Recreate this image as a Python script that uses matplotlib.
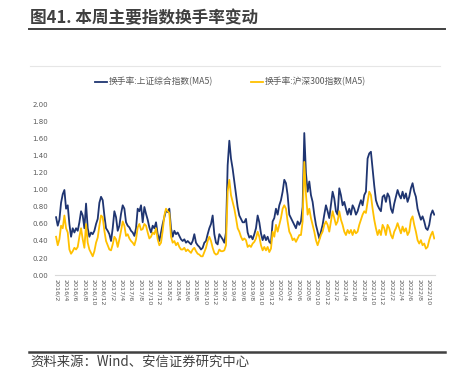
import matplotlib.pyplot as plt
import pandas as pd
from matplotlib.lines import Line2D

plt.rcParams['font.family'] = ['Noto Sans CJK SC', 'DejaVu Sans']

# turnover (MA5), roughly every 11 days from late Jan 2016
sse_turnover = [
    0.68, 0.58, 0.65, 0.85, 0.95, 1.00, 0.78, 0.82, 0.60, 0.45,
    0.55, 0.50, 0.55, 0.52, 0.62, 0.75, 0.70, 0.55, 0.84, 0.55,
    0.45, 0.50, 0.48, 0.52, 0.60, 0.66, 0.85, 0.92, 0.88, 0.70,
    0.55, 0.52, 0.48, 0.40, 0.55, 0.75, 0.68, 0.52, 0.58, 0.72,
    0.82, 0.78, 0.62, 0.58, 0.56, 0.52, 0.50, 0.46, 0.55, 0.78,
    0.75, 0.82, 0.62, 0.80, 0.72, 0.65, 0.56, 0.50, 0.58, 0.55,
    0.62, 0.48, 0.40, 0.50, 0.60, 0.68, 0.76, 0.74, 0.78, 0.55,
    0.45, 0.52, 0.48, 0.50, 0.46, 0.42, 0.40, 0.42, 0.38, 0.40,
    0.38, 0.36, 0.40, 0.48, 0.38, 0.35, 0.33, 0.30, 0.32, 0.38,
    0.40, 0.48, 0.55, 0.60, 0.70, 0.48, 0.38, 0.36, 0.48, 0.45,
    0.42, 0.38, 0.50,
    1.29, 1.58, 1.37, 1.25, 1.10, 0.95, 0.80, 0.70, 0.66, 0.62,
    0.62, 0.66, 0.50, 0.44, 0.46, 0.42, 0.48, 0.55, 0.70, 0.62,
    0.49, 0.41, 0.47, 0.41, 0.45, 0.39, 0.37, 0.63, 0.67, 0.78,
    0.71, 0.82, 0.88, 0.98, 1.12, 1.08, 0.94, 0.71, 0.67, 0.63,
    0.59, 0.55, 0.63,
    0.59, 0.63, 0.80, 1.67, 1.20, 0.98, 1.10, 0.94, 0.86, 0.71,
    0.59, 0.51, 0.43, 0.51, 0.59, 0.71, 0.82, 0.75, 0.67, 0.82,
    0.98, 0.90, 0.75, 0.71, 1.02, 0.94, 0.82, 0.86, 0.78, 0.71,
    0.78, 0.71, 0.82, 0.78, 0.71, 0.75, 0.82, 0.88, 0.82, 0.94,
    0.98,
    1.37, 1.43, 1.45, 1.25, 1.05, 0.88, 0.82, 0.78, 0.75, 0.92,
    0.94, 0.86, 0.96, 0.92, 0.78, 0.73, 0.84, 0.92, 1.00, 0.94,
    0.90, 0.98, 0.90, 0.96, 0.86, 0.92, 1.02, 1.08, 0.98, 0.92,
    0.78, 0.71, 0.65, 0.69, 0.63, 0.55, 0.53, 0.59, 0.71, 0.76,
    0.71,
]

hs300_turnover = [
    0.45, 0.35, 0.42, 0.58, 0.55, 0.70, 0.55, 0.50, 0.30, 0.25,
    0.28, 0.32, 0.30, 0.33, 0.45, 0.55, 0.42, 0.32, 0.60, 0.38,
    0.30, 0.26, 0.22, 0.28, 0.38, 0.44, 0.58, 0.70, 0.68, 0.52,
    0.40, 0.35, 0.30, 0.29, 0.36, 0.45, 0.42, 0.33, 0.42, 0.52,
    0.63, 0.58, 0.46, 0.48, 0.43, 0.40, 0.38, 0.35, 0.42, 0.56,
    0.60, 0.53, 0.54, 0.60, 0.58, 0.50, 0.43, 0.45, 0.50, 0.48,
    0.55, 0.42, 0.35, 0.38, 0.52, 0.70, 0.78, 0.75, 0.73, 0.45,
    0.38, 0.40, 0.35, 0.38, 0.33, 0.30, 0.30, 0.32, 0.28, 0.30,
    0.28, 0.26, 0.30, 0.32, 0.28, 0.25, 0.24, 0.22, 0.22, 0.27,
    0.32, 0.40, 0.45, 0.40, 0.32, 0.26, 0.24, 0.25, 0.30, 0.28,
    0.28, 0.29, 0.35,
    0.98, 1.12, 0.94, 0.86, 0.78, 0.67, 0.55, 0.51, 0.45, 0.41,
    0.43, 0.41, 0.33, 0.35, 0.33, 0.37, 0.39, 0.43, 0.51, 0.45,
    0.35, 0.29, 0.33, 0.29, 0.33, 0.27, 0.31, 0.51, 0.45, 0.59,
    0.51, 0.59, 0.67, 0.78, 0.82, 0.78, 0.63, 0.51, 0.47, 0.41,
    0.43, 0.39, 0.43,
    0.47, 0.47, 0.63, 1.33, 0.95, 0.71, 0.78, 0.67, 0.59, 0.51,
    0.41, 0.35, 0.41, 0.47, 0.51, 0.59, 0.63, 0.59, 0.51, 0.63,
    0.75, 0.67, 0.59, 0.63, 0.75, 0.65, 0.59, 0.51, 0.47, 0.53,
    0.49, 0.53, 0.47, 0.53, 0.49, 0.51, 0.59, 0.65, 0.71, 0.75,
    0.73,
    0.86, 0.98, 0.94, 0.78, 0.65, 0.55, 0.47, 0.53, 0.47, 0.59,
    0.55, 0.47, 0.59, 0.55, 0.47, 0.43, 0.51, 0.55, 0.61, 0.55,
    0.49, 0.57, 0.51, 0.55, 0.47, 0.51, 0.65, 0.69, 0.59, 0.51,
    0.41, 0.37, 0.41, 0.35, 0.37, 0.31, 0.33, 0.41, 0.47, 0.51,
    0.43,
]

series_names = ['换手率:上证综合指数(MA5)', '换手率:沪深300指数(MA5)']
colors = ['#1F3571', '#FFC000']

dates = pd.date_range('2016-01-29', '2022-11-08', periods=len(sse_turnover))
tick_dates = pd.date_range('2016-02-01', '2022-10-01', freq='2MS')
tick_labels = [f'{d.year}/{d.month}' for d in tick_dates]
y_ticks = [0.0, 0.2, 0.4, 0.6, 0.8, 1.0, 1.2, 1.4, 1.6, 1.8, 2.0]

fig = plt.figure(figsize=(4.56, 3.79), dpi=100)
ax = fig.add_axes([0.1206, 0.2744, 0.834, 0.4486])

ax.plot(dates, sse_turnover, color=colors[0], lw=1.3)
ax.plot(dates, hs300_turnover, color=colors[1], lw=1.3)

ax.set_ylim(0, 2.0)
ax.set_xlim(pd.Timestamp('2016-01-22'), pd.Timestamp('2022-11-15'))
ax.set_yticks(y_ticks)
ax.set_yticklabels([f'{v:.2f}' for v in y_ticks])
ax.set_xticks(tick_dates)
ax.set_xticklabels(tick_labels, rotation=-90, va='top', ha='center')
ax.tick_params(axis='y', length=0, pad=5, labelsize=5, labelcolor='#595959')
ax.tick_params(axis='x', length=0, pad=3, labelsize=4.6, labelcolor='#595959')
for lbl in ax.get_xticklabels() + ax.get_yticklabels():
    lbl.set_family('DejaVu Sans')

for side in ['top', 'right', 'left']:
    ax.spines[side].set_visible(False)
ax.spines['bottom'].set_color('#D9D9D9')
ax.spines['bottom'].set_linewidth(0.8)

handles = [Line2D([], [], color=c, lw=1.3) for c in colors]
fig.legend(handles, series_names, ncol=2, loc='center',
           bbox_to_anchor=(0.505, 0.7836), frameon=False,
           fontsize=6.3, labelcolor='#595959', handlelength=1.4,
           handletextpad=0.15, columnspacing=4.3)

# title, rules and source
fig.text(0.066, 0.9525, '图41. 本周主要指数换手率变动', fontsize=12,
         fontweight='bold', color='#404040', va='center', ha='left')
fig.add_artist(Line2D([0.064, 0.976], [0.9235, 0.9235], color='#404040', lw=1.4))
fig.add_artist(Line2D([0.066, 0.965], [0.826, 0.826], color='#E6E6E6', lw=0.8))
fig.add_artist(Line2D([0.064, 0.976], [0.071, 0.071], color='#404040', lw=1.8))
fig.text(0.066, 0.045, '资料来源：Wind、安信证券研究中心', fontsize=9.6,
         color='#404040', va='center', ha='left', style='italic')

fig.savefig('out.png', dpi=100)
